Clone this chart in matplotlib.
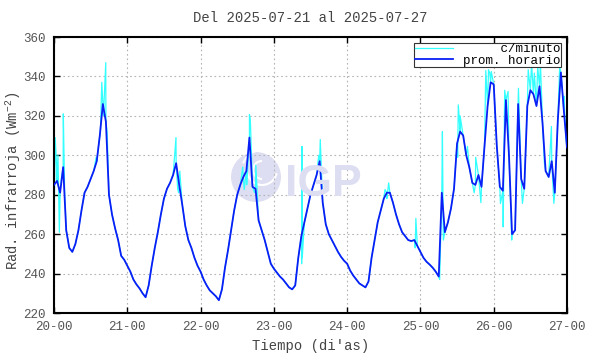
import matplotlib
matplotlib.use('Agg')
import matplotlib.pyplot as plt
import numpy as np
from matplotlib.patches import Ellipse, Arc

plt.rcParams['font.family'] = ['Liberation Mono', 'DejaVu Sans Mono']
plt.rcParams['mathtext.fontset'] = 'custom'
plt.rcParams['mathtext.rm'] = 'Liberation Mono'
plt.rcParams['mathtext.it'] = 'Liberation Mono'

# hourly averages (prom. horario), one list per day, W/m2
day20 = [285, 287, 281, 294, 262, 253, 251, 255, 262, 272, 281, 284, 288, 292, 297, 310, 326, 317, 280, 270, 263, 257, 249, 247]
day21 = [244, 241, 237, 234.5, 232.5, 230, 228, 234, 244, 253, 261, 270, 278, 283, 286, 290, 296, 285, 275, 264, 257, 253, 248, 244]
day22 = [241, 237, 234, 231.5, 230, 228.5, 226.5, 232, 243, 252, 262, 272, 280, 285, 289, 292, 309, 284, 283, 267, 262, 257, 251, 245]
day23 = [242.5, 240.5, 238.5, 237, 235, 233, 232, 234, 248, 259, 266, 273, 280, 285, 290, 297, 276, 265, 260, 257, 254, 251, 248.5, 246.5]
day24 = [245, 241.5, 239, 237, 235, 234, 233, 236, 248, 257, 266, 272, 278, 281, 281, 276, 270, 265, 261, 259, 257, 256.5, 257, 254]
day25 = [251, 248, 246, 244.6, 243, 241, 238.5, 281, 261, 266, 273, 283, 306, 312, 310, 300, 294, 286, 285, 290, 284, 305, 325, 337]
day26 = [336, 305, 284, 282, 328, 300, 260, 262, 326, 288, 283, 325, 333, 331, 325, 335, 316, 292, 289, 297, 281, 318, 342, 322]
last_value = 304

# minute data peaks that stick out of the hourly curve (hours since 20-00, W/m2)
spike_hours = [0.02, 0.4, 0.8, 1.3, 1.75, 2.4, 3.05, 3.5, 13.8, 15.2, 15.65, 16.2, 16.95, 17.4,
               39.95, 40.5, 40.8, 41.2,
               61.8, 62.3, 63.1, 64.0, 64.3, 65.7, 66.1,
               81.1, 81.2, 81.3, 86.7, 87.2,
               108.4, 109.0, 109.6, 118.3, 118.5,
               126.3, 127.2, 127.5, 132.2, 132.4, 133.0, 135.4, 137.6, 138.1, 139.8, 141.4, 142.3, 142.7, 143.2,
               146.2, 147.1, 147.6, 148.7, 149.9, 152.1, 153.4, 155.3, 156.4, 157.3, 158.4, 159.3, 160.6,
               162.9, 163.7, 165.6, 167.0, 167.6, 168.0]
spike_vals = [265, 309, 296, 300, 261, 288, 321, 280, 299, 312, 337, 320, 347, 312,
              309, 283, 281, 292,
              294, 282.6, 285, 320.6, 318, 281, 295,
              245, 304.5, 248, 300, 308,
              282.6, 278, 286, 253, 268,
              237, 312, 257, 299, 325.6, 320, 304.5, 281, 299, 276, 343, 343.4, 341.7, 342.5,
              275.6, 263.7, 333, 332.4, 257, 334, 275.6, 343.4, 346.8, 341.7, 345, 346.8, 296,
              314.6, 275.6, 345, 330, 309.5, 279]

xticks = [20, 21, 22, 23, 24, 25, 26, 27]
xtick_labels = ['20-00', '21-00', '22-00', '23-00', '24-00', '25-00', '26-00', '27-00']
yticks = [220, 240, 260, 280, 300, 320, 340, 360]

hourly = np.array(day20 + day21 + day22 + day23 + day24 + day25 + day26 + [last_value])
t_hourly = 20 + np.arange(len(hourly)) / 24.0

t_min = np.concatenate([np.arange(len(hourly)), spike_hours])
v_min = np.concatenate([hourly, spike_vals])
order = np.argsort(t_min, kind='stable')
t_min = 20 + t_min[order] / 24.0
v_min = v_min[order]

fig = plt.figure(figsize=(5.9, 3.54), dpi=100)
ax = fig.add_axes([54 / 590, 1 - 313 / 354, 513 / 590, 276 / 354])

# IGP watermark
ax.add_patch(Ellipse((256 / 590, 1 - 177 / 354), 50 / 590, 50 / 354, transform=fig.transFigure,
                     facecolor='#dedef3', edgecolor='none', zorder=0.2))
for w, a1, a2 in [(30, 200, 340), (40, 30, 150), (18, 90, 270)]:
    ax.add_patch(Arc((262 / 590, 1 - 170 / 354), w / 590, w / 354, theta1=a1, theta2=a2,
                     transform=fig.transFigure, color='white', lw=1.5, zorder=0.25))
fig.text(323 / 590, 1 - 195.5 / 354, 'IGP', family='Liberation Sans', fontweight='bold',
         fontsize=32, color='#dedef3', ha='center', va='baseline', zorder=0.2)
ax.patch.set_alpha(0)

ax.plot(t_min, v_min, color='#33ffff', lw=0.9, label='     c/minuto', zorder=2)
ax.plot(t_hourly, hourly, color='#0a1ef5', lw=1.3, label='prom. horario', zorder=3)

ax.set_xlim(20, 27)
ax.set_ylim(220, 360)
ax.set_xticks(xticks)
ax.set_xticklabels(xtick_labels)
ax.set_yticks(yticks)
ax.set_axisbelow(True)
ax.grid(True, linestyle=(0, (1.5, 2.5)), color='#b4b4b4', linewidth=0.8)
ax.tick_params(direction='in', length=4, width=1, top=True, right=True,
               labelsize=9, labelcolor='#555555', pad=6)
for s in ax.spines.values():
    s.set_linewidth(1.5)
    s.set_color('black')

ax.set_title('Del 2025-07-21 al 2025-07-27', fontsize=10, color='#444444', pad=11)
fig.text(311 / 590, 1 - 346 / 354, "Tiempo (di'as)", fontsize=10, color='#444444',
         ha='center', va='center')
fig.text(13 / 590, 1 - 181 / 354, r'Rad. infrarroja (Wm$^{-2}$)', fontsize=10, color='#444444',
         ha='center', va='center', rotation=90)

leg = ax.legend(loc='upper right', fontsize=9, fancybox=False, edgecolor='#333333', framealpha=1,
                borderpad=0.05, labelspacing=-0.05, handlelength=3.1, handletextpad=0.8,
                borderaxespad=0.45)
leg.get_frame().set_linewidth(0.8)

fig.savefig('out.png', dpi=100, facecolor='white')
